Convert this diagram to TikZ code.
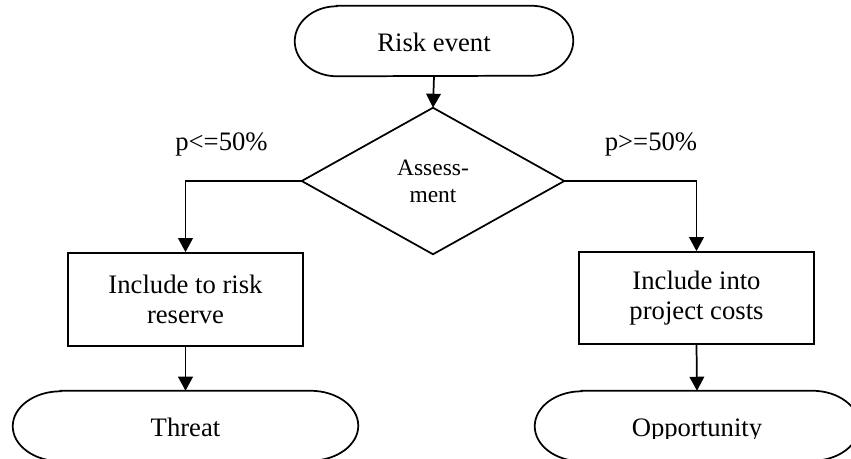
\documentclass[tikz,border=0pt]{standalone}
\usepackage{fontspec}
\setmainfont{Liberation Serif}
\usetikzlibrary{arrows.meta,calc}
\newcommand\termoutline[3]{%
  \draw[line width=1.3pt] ([xshift=#2]#1.north west) -- ([xshift=-#2]#1.north east)
    arc[start angle=90,end angle=-90,x radius=#2,y radius=#3]
    -- ([xshift=#2]#1.south west)
    arc[start angle=270,end angle=90,x radius=#2,y radius=#3] -- cycle;}
\begin{document}
\begin{tikzpicture}[x=0.75pt,y=0.75pt,
  every node/.style={font=\fontsize{20}{22.5}\selectfont, inner sep=0pt, align=center},
  termtext/.style={minimum height=52.5pt, text height=16pt, text depth=0pt},
  procbox/.style={draw, line width=1.3pt, minimum width=176.25pt},
  conn/.style={line width=1.3pt, -{Triangle[length=10.5pt,width=11pt]}}]
\useasboundingbox (0,0) rectangle (851,-458);
\clip (0,0) rectangle (851,-458);
% terminals
\node[termtext, minimum width=208.5pt] (risk) at (434,-41) {Risk event};
\termoutline{risk}{31.5pt}{26.25pt}
% decision
\node[minimum width=196.5pt, minimum height=109.5pt, font=\fontsize{17.6}{20.25}\selectfont] (A) at (433,-181) {Assess-\\ment};
\draw[line width=1.3pt] (A.north) -- (A.east) -- (A.south) -- (A.west) -- cycle;
% process boxes
\node[procbox, minimum height=69.75pt] (L) at (185.5,-299.5) {Include to risk\\reserve};
\node[procbox, minimum height=69pt] (R) at (696.5,-298) {Include into\\project costs};
% end terminals
\node[termtext, minimum width=258.75pt] (T) at (185.5,-426) {Threat};
\termoutline{T}{36pt}{26.25pt}
\begin{scope}
\clip (500,-380) rectangle (851,-438.5);
\node[termtext, minimum width=243pt] (O) at (697,-426) {Opportunity};
\end{scope}
\termoutline{O}{35.25pt}{26.25pt}
% labels
\node[anchor=base] (lp) at (221.5,-150) {p<=50\%};
\node[anchor=base] (rp) at (651,-150) {p>=50\%};
% connectors
\draw[conn] (risk.south) -- (A.north);
\draw[conn] (A.west) -| (L.north);
\draw[conn] (A.east) -| (R.north);
\draw[conn] (L.south) -- (T.north);
\draw[conn] (R.south) -- (O.north);
\end{tikzpicture}
\end{document}
